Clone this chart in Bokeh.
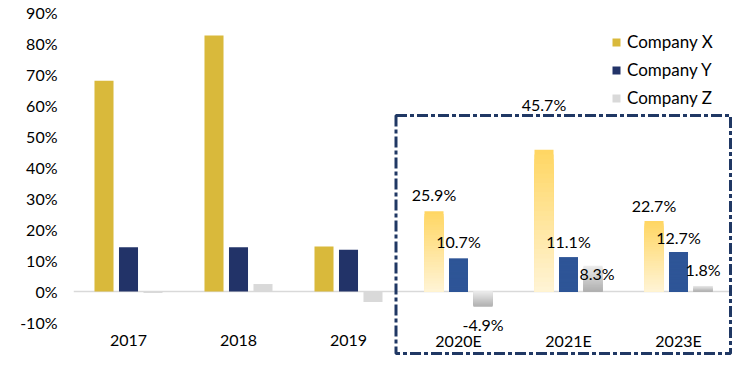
from bokeh.plotting import figure
from bokeh.models import (ColumnDataSource, Range1d, FixedTicker,
                          BoxAnnotation, Legend, LegendItem)
from bokeh.embed import file_html
from bokeh.resources import INLINE
from bokeh.core.properties import value

# ---------------- data ----------------
categories = ["2017", "2018", "2019", "2020E", "2021E", "2023E"]
company_x = [68.0, 82.6, 14.5, 25.9, 45.7, 22.7]
company_y = [14.3, 14.3, 13.5, 10.7, 11.1, 12.7]
company_z = [-0.5, 2.4, -3.4, -4.9, 8.3, 1.8]
is_forecast = [False, False, False, True, True, True]
series_names = ["Company X", "Company Y", "Company Z"]
y_ticks = [-10, 0, 10, 20, 30, 40, 50, 60, 70, 80, 90]

# ---------------- styles ----------------
FONT = "Lato"
solid_colors = ["#D9B93B", "#223368", "#D9D9D9"]
grad_colors = [((255, 244, 214), (255, 214, 98)),
               ((46, 85, 151), (46, 85, 151)),
               ((175, 175, 175), (236, 236, 236))]
offsets = [-0.2227, 0.0, 0.2227]
bar_w = 0.173
lab_dy = [[-17, -45, -16], [-17, -16, -15], [18, 8, -16]]
lab_dx = [[0, 0, 0], [0, 0, 0], [0, 4, 0]]
CAT_LABEL_Y = -15.8

series = [company_x, company_y, company_z]
xpos = [i + 0.5 for i in range(len(categories))]

p = figure(width=732, height=355, x_range=Range1d(0, 5.9909), y_range=Range1d(-20.65, 93.87),
           output_backend="svg", toolbar_location=None, x_axis_location=None, title=None,
           min_border_left=73, min_border_right=0, min_border_top=0, min_border_bottom=0)
p.outline_line_color = None
p.xgrid.grid_line_color = None
p.ygrid.grid_line_color = None

ax = p.yaxis[0]
ax.ticker = FixedTicker(ticks=y_ticks)
ax.major_label_overrides = {t: f"{t}%" for t in y_ticks}
ax.axis_line_color = None
ax.major_tick_line_color = None
ax.minor_tick_line_color = None
ax.major_tick_out = 0
ax.major_tick_in = 0
ax.major_label_text_font = FONT
ax.major_label_text_font_size = "16px"
ax.major_label_text_color = "#000000"
ax.major_label_standoff = 16

# zero line across the category span
p.line(x=[0, len(categories)], y=[0, 0], line_color="#D9D9D9", line_width=1.5)

legend_items = []
N = 30
for s, vals in enumerate(series):
    hx = [x + offsets[s] for x, f in zip(xpos, is_forecast) if not f]
    hv = [v for v, f in zip(vals, is_forecast) if not f]
    r = p.vbar(x=hx, top=hv, bottom=0, width=bar_w,
               fill_color=solid_colors[s], line_color=None)
    legend_items.append(LegendItem(label=series_names[s], renderers=[r]))

    fx = [x + offsets[s] for x, f in zip(xpos, is_forecast) if f]
    fv = [v for v, f in zip(vals, is_forecast) if f]
    rows = []
    c0, c1 = grad_colors[s]
    for x, v in zip(fx, fv):
        for i in range(N):
            k = (i + 1) / N
            frac = (i + 0.5) / N
            t = frac if v >= 0 else 1 - frac
            col = tuple(int(round(c0[j] + (c1[j] - c0[j]) * t)) for j in range(3))
            rows.append((k, x, v * k, "#%02x%02x%02x" % col))
    rows.sort(key=lambda r_: -r_[0])
    gsrc = ColumnDataSource(dict(x=[r_[1] for r_ in rows], top=[r_[2] for r_ in rows],
                                 color=[r_[3] for r_ in rows]))
    p.vbar(x="x", top="top", bottom=0, width=bar_w, source=gsrc,
           fill_color="color", line_color=None)

    lsrc = ColumnDataSource(dict(x=fx, y=fv, text=[f"{v:.1f}%" for v in fv],
                                 dy=lab_dy[s], dx=lab_dx[s]))
    p.text(x="x", y="y", text="text", source=lsrc, x_offset="dx", y_offset="dy",
           text_align="center", text_baseline="middle",
           text_font=value(FONT), text_font_size="16px", text_color="#000000")

# category labels
p.text(x=xpos, y=[CAT_LABEL_Y] * len(categories), text=categories,
       text_align="center", text_baseline="middle",
       text_font=value(FONT), text_font_size="16px", text_color="#000000")

legend = Legend(items=legend_items, location=(538, 247), border_line_color=None,
                background_fill_alpha=0, glyph_width=10, glyph_height=10,
                label_standoff=6, spacing=7, padding=5, label_height=20, margin=0,
                label_text_font=FONT, label_text_font_size="17px", label_text_color="#000000")
p.add_layout(legend)

box = BoxAnnotation(left=395.5, right=730, top=115, bottom=353,
                    left_units="canvas", right_units="canvas", top_units="canvas",
                    bottom_units="canvas", fill_alpha=0, line_color="#203864",
                    line_alpha=1, line_width=3, line_dash="11 3 4 3")
p.add_layout(box)

open("out.html", "w").write(file_html(p, INLINE))
